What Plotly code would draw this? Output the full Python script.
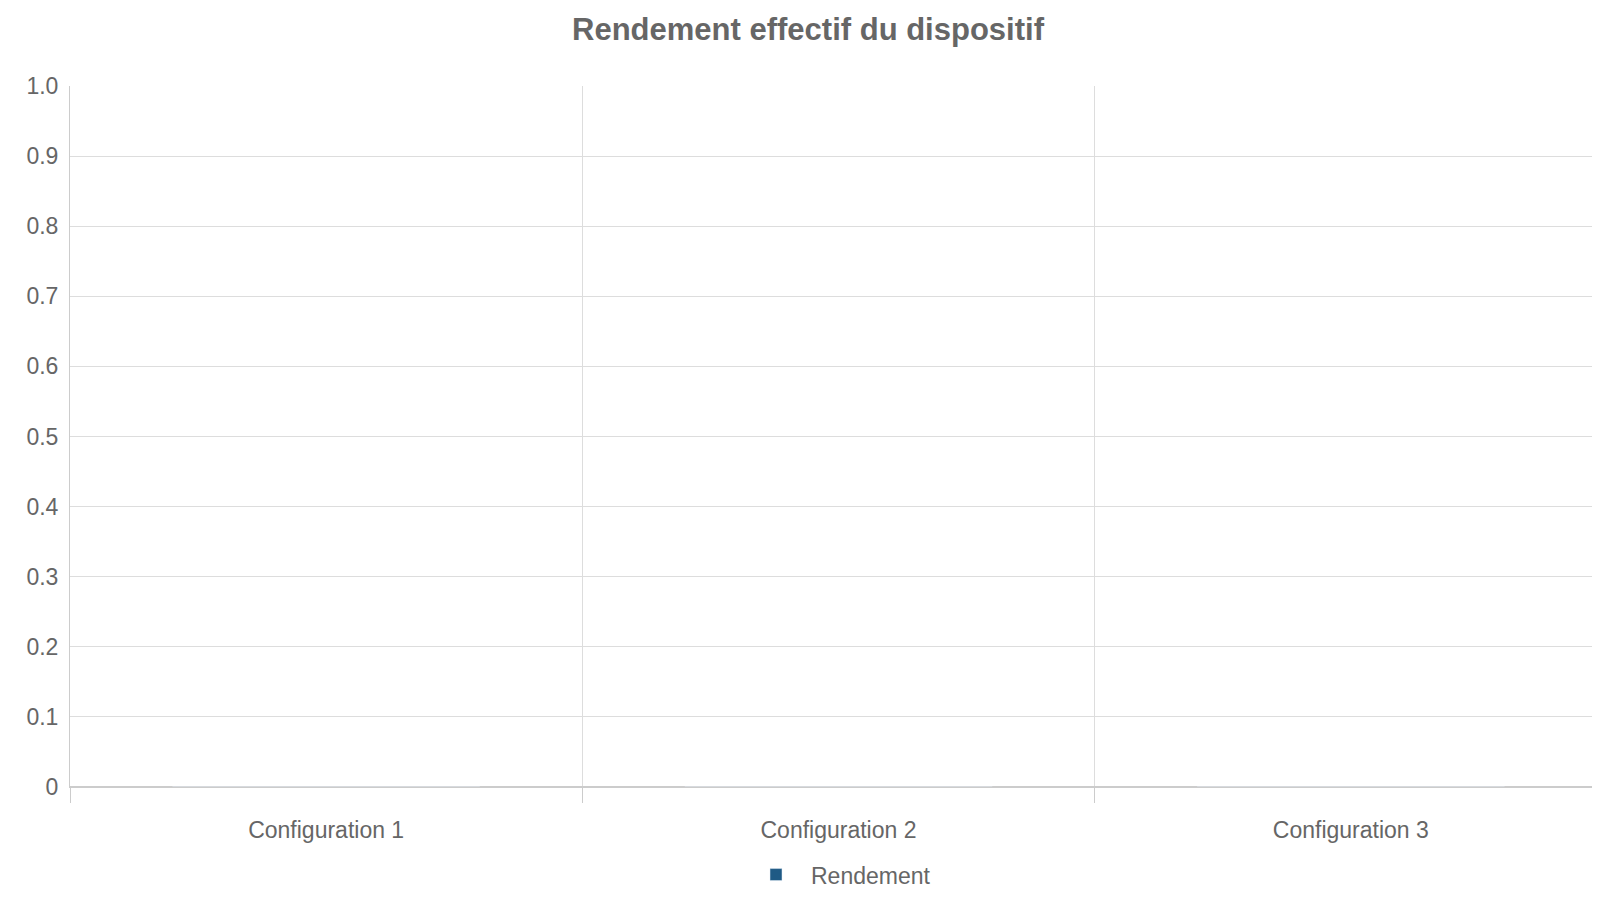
import plotly.graph_objects as go

categories = ["Configuration 1", "Configuration 2", "Configuration 3"]
rendement = [0, 0, 0]
y_ticks = [0, 0.1, 0.2, 0.3, 0.4, 0.5, 0.6, 0.7, 0.8, 0.9, 1.0]
y_labels = ["0", "0.1", "0.2", "0.3", "0.4", "0.5", "0.6", "0.7", "0.8", "0.9", "1.0"]

pos = [i + 0.5 for i in range(len(categories))]
grey = "#666666"

fig = go.Figure()
fig.add_trace(go.Bar(x=pos, y=rendement, name="Rendement", marker_color="#1f5a85",
                     width=0.6, showlegend=True))

fig.update_layout(
    width=1600, height=900,
    paper_bgcolor="white", plot_bgcolor="white",
    font=dict(family="Liberation Sans, Arial, sans-serif", color=grey, size=23),
    title=dict(text="<b>Rendement effectif du dispositif</b>", x=0.5, xanchor="center",
               y=0.977, yanchor="middle", font=dict(size=31, color=grey)),
    margin=dict(l=62, r=1, t=78, b=121),
    showlegend=True,
    xaxis=dict(range=[0, 3], tickvals=pos, ticktext=categories, automargin=False,
               showgrid=False, ticks="", ticklabelstandoff=22,
               minor=dict(tickvals=[0, 1, 2, 3], showgrid=True, gridcolor="#dddddd",
                          ticks="outside", ticklen=15, tickcolor="#cccccc"),
               showline=True, linecolor="#cccccc", zeroline=False),
    yaxis=dict(range=[0, 1], tickvals=y_ticks, ticktext=y_labels, automargin=False,
               showgrid=True, gridcolor="#dddddd", showline=True, linecolor="#cccccc",
               zeroline=True, zerolinecolor="#cccccc", ticks="", ticklabelstandoff=6),
    legend=dict(orientation="h", x=0.5, xanchor="center", y=-0.125, yanchor="middle",
                font=dict(size=23, color=grey), itemwidth=60),
    bargap=0.4,
)

fig.write_html("out.html")
